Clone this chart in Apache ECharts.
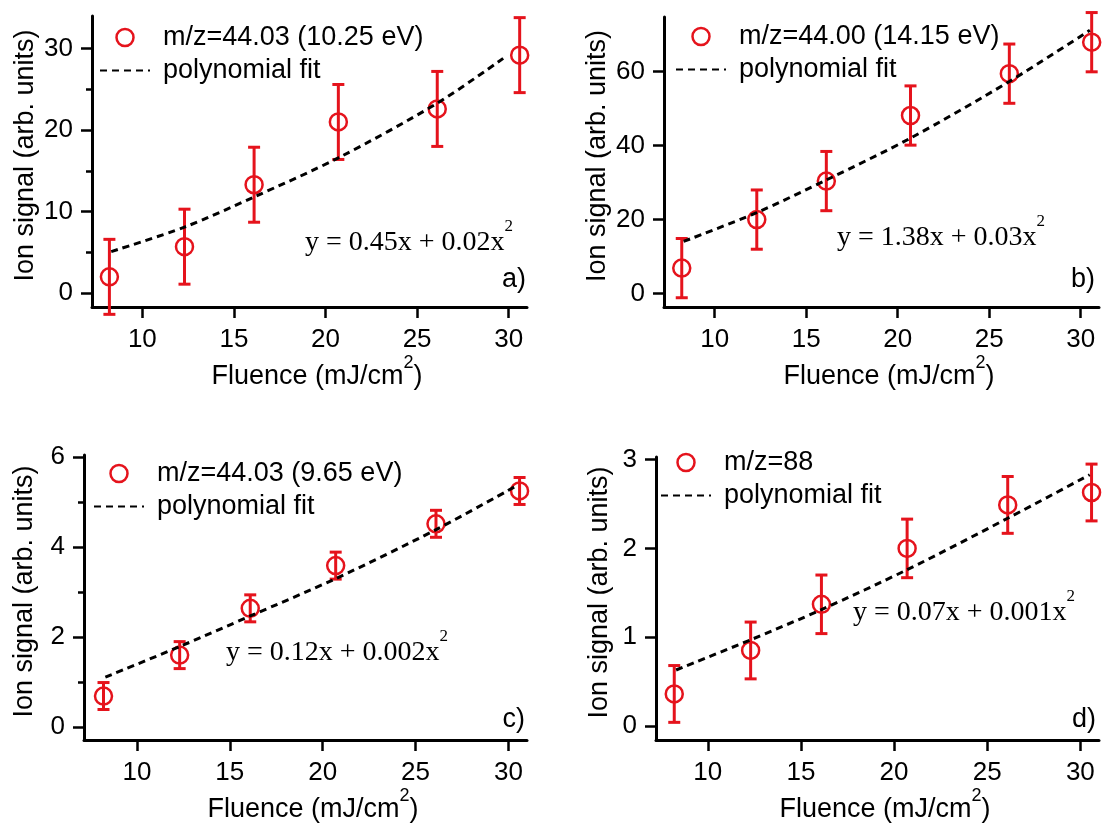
<!DOCTYPE html>
<html>
<head>
<meta charset="utf-8">
<script src="https://cdn.jsdelivr.net/npm/echarts@6/dist/echarts.min.js"></script>
<style>
  html, body { margin: 0; padding: 0; background: #fff; }
  #main { width: 1102px; height: 834px; }
</style>
</head>
<body>
<div id="main"></div>
<script>
// fluence (mJ/cm2), same for every panel
const fluence = [8.2, 12.3, 16.1, 20.7, 26.1, 30.6]
const xTicks = [10, 15, 20, 25, 30]

// a) m/z=44.03 (10.25 eV)
const sigA = [2.0, 5.7, 13.3, 21.0, 22.6, 29.2]
const errA = [4.6, 4.6, 4.6, 4.6, 4.6, 4.6]
const fitXA = [8.3, 12.3, 16.1, 20.7, 26.1, 29.7]
const fitA = [5.1, 8.1, 11.8, 16.6, 23.3, 28.8]
const yTicksA = [0, 10, 20, 30]
const yMinorA = [5, 15, 25]

// b) m/z=44.00 (14.15 eV)
const sigB = [6.9, 20.0, 30.4, 48.1, 59.4, 67.9]
const errB = [8.0, 8.0, 8.0, 8.0, 8.0, 8.0]
const fitXB = [8.3, 12.3, 16.1, 20.7, 26.1, 30.5]
const fitB = [14.1, 21.9, 30.7, 42.0, 57.3, 71.1]
const yTicksB = [0, 20, 40, 60]

// c) m/z=44.03 (9.65 eV)
const sigC = [0.69, 1.60, 2.64, 3.59, 4.52, 5.25]
const errC = [0.3, 0.3, 0.3, 0.3, 0.3, 0.3]
const fitXC = [8.3, 12.3, 16.1, 20.7, 26.1, 30.5]
const fitC = [1.11, 1.79, 2.47, 3.30, 4.39, 5.38]
const yTicksC = [0, 2, 4, 6]
const yMinorC = [1, 3, 5]

// d) m/z=88
const sigD = [0.36, 0.85, 1.37, 2.00, 2.49, 2.63]
const errD = [0.32, 0.32, 0.33, 0.33, 0.32, 0.32]
const fitXD = [8.3, 12.3, 16.1, 20.7, 26.1, 30.5]
const fitD = [0.63, 0.97, 1.31, 1.76, 2.34, 2.83]
const yTicksD = [0, 1, 2, 3]

const namesScatter = ['m/z=44.03 (10.25 eV)', 'm/z=44.00 (14.15 eV)', 'm/z=44.03 (9.65 eV)', 'm/z=88']
const fitName = 'polynomial fit'
const equations = ['y = 0.45x + 0.02x', 'y = 1.38x + 0.03x', 'y = 0.12x + 0.002x', 'y = 0.07x + 0.001x']

const RED = '#e5131c'
const SANS = '"Liberation Sans", Arial, sans-serif'
const SERIF = '"Liberation Serif", "Times New Roman", serif'

var myChart = echarts.init(document.getElementById('main'))

function xAxisOf(gridIndex, min, gap) {
  return {
    type: 'value', gridIndex: gridIndex, min: min, max: 31,
    name: 'Fluence (mJ/cm{s|2})', nameLocation: 'middle', nameGap: gap,
    nameTextStyle: {
      color: '#000', fontSize: 27, fontFamily: SANS, lineHeight: 46, padding: [0, 0, 0, 15],
      rich: { s: { fontSize: 18, fontFamily: SANS, color: '#000', verticalAlign: 'top', lineHeight: 18 } },
    },
    axisLine: { onZero: false, lineStyle: { color: '#000', width: 3 } },
    axisTick: { customValues: xTicks, length: 11, lineStyle: { color: '#000', width: 2.5 } },
    axisLabel: { customValues: xTicks, margin: 20, color: '#000', fontSize: 26, fontFamily: SANS },
    splitLine: { show: false },
  }
}

function yAxisOf(gridIndex, min, max, ticks, gap) {
  return {
    type: 'value', gridIndex: gridIndex, position: 'left', min: min, max: max,
    name: 'Ion signal (arb. units)', nameLocation: 'middle', nameGap: gap,
    nameTextStyle: { color: '#000', fontSize: 27, fontFamily: SANS, lineHeight: 30, padding: [0, 0, 0, 12] },
    axisLine: { onZero: false, lineStyle: { color: '#000', width: 3 } },
    axisTick: { customValues: ticks, length: 11, lineStyle: { color: '#000', width: 2.5 } },
    axisLabel: { customValues: ticks, margin: 19, color: '#000', fontSize: 26, fontFamily: SANS },
    splitLine: { show: false },
  }
}

// 小刻度用的辅助轴
function minorAxisOf(gridIndex, min, max, ticks) {
  return {
    type: 'value', gridIndex: gridIndex, position: 'left', min: min, max: max,
    axisLine: { show: false, onZero: false },
    axisTick: { customValues: ticks, length: 6, lineStyle: { color: '#000', width: 2.5 } },
    axisLabel: { show: false },
    splitLine: { show: false },
  }
}

function errorSeries(idx, sig, err) {
  return {
    type: 'custom', xAxisIndex: idx, yAxisIndex: idx, silent: true, z: 2,
    data: fluence.map((x, i) => [x, sig[i] - err[i], sig[i] + err[i]]),
    encode: { x: 0, y: [1, 2] },
    renderItem: function (params, api) {
      var x = api.value(0)
      var top = api.coord([x, api.value(2)])
      var bot = api.coord([x, api.value(1)])
      var w = 6
      var st = { stroke: RED, lineWidth: 3 }
      return {
        type: 'group',
        children: [
          { type: 'line', shape: { x1: top[0], y1: top[1], x2: bot[0], y2: bot[1] }, style: st },
          { type: 'line', shape: { x1: top[0] - w, y1: top[1], x2: top[0] + w, y2: top[1] }, style: st },
          { type: 'line', shape: { x1: bot[0] - w, y1: bot[1], x2: bot[0] + w, y2: bot[1] }, style: st },
        ],
      }
    },
  }
}

function pointSeries(idx, sig) {
  return {
    type: 'scatter', name: namesScatter[idx], xAxisIndex: idx, yAxisIndex: idx, z: 3,
    symbol: 'circle', symbolSize: 17,
    itemStyle: { color: 'transparent', borderColor: RED, borderWidth: 2.5, opacity: 1 },
    data: fluence.map((x, i) => [x, sig[i]]),
  }
}

function fitSeries(idx, fx, fy) {
  return {
    type: 'line', name: fitName, xAxisIndex: idx, yAxisIndex: idx, z: 4,
    symbol: 'none', smooth: 0.3, silent: true,
    itemStyle: { color: '#000' },
    lineStyle: { color: '#000', width: 3, type: [7, 5] },
    data: fx.map((x, i) => [x, fy[i]]),
  }
}

function legendOf(idx, left, top) {
  return {
    orient: 'vertical', left: left, top: top,
    data: [
      namesScatter[idx],
      { name: fitName, itemStyle: { color: 'transparent', borderWidth: 0, opacity: 0 } },
    ],
    itemWidth: 50, itemHeight: 17, itemGap: 6,
    selectedMode: false,
    itemStyle: { borderWidth: 2.5 },
    textStyle: { color: '#000', fontSize: 27, fontFamily: SANS, lineHeight: 27, padding: [0, 0, 0, 8] },
  }
}

// 公式，x² 用 rich 上标
function eq(idx, x, y) {
  return {
    type: 'text', x: x, y: y,
    style: {
      text: equations[idx] + '{s|2}', fill: '#000', fontSize: 28, fontFamily: SERIF, lineHeight: 50,
      align: 'left', verticalAlign: 'middle',
      rich: { s: { fontSize: 17, fontFamily: SERIF, fill: '#000', lineHeight: 17, verticalAlign: 'top' } },
    },
  }
}

function tag(x, y, text) {
  return { type: 'text', x: x, y: y, style: { text: text, fill: '#000', font: '27px ' + SANS, align: 'right', verticalAlign: 'middle' } }
}

var option = {
  animation: false,
  backgroundColor: '#fff',
  grid: [
    { left: 92, top: 16, width: 435, height: 291 },
    { left: 664, top: 17, width: 435, height: 290 },
    { left: 84, top: 455, width: 443, height: 290 },
    { left: 656, top: 457, width: 443, height: 291 },
  ],
  xAxis: [xAxisOf(0, 7.25, 36), xAxisOf(1, 7.23, 37), xAxisOf(2, 7.15, 35), xAxisOf(3, 7.22, 41)],
  yAxis: [
    yAxisOf(0, -1.7, 34, yTicksA, 51),
    yAxisOf(1, -3.6, 74.7, yTicksB, 51),
    yAxisOf(2, -0.29, 6.05, yTicksC, 44),
    yAxisOf(3, -0.16, 3.03, yTicksD, 41),
    minorAxisOf(0, -1.7, 34, yMinorA),
    minorAxisOf(2, -0.29, 6.05, yMinorC),
  ],
  legend: [
    legendOf(0, 94, 19),
    legendOf(1, 670, 18),
    legendOf(2, 88, 455),
    legendOf(3, 655, 444),
  ],
  series: [
    errorSeries(0, sigA, errA), pointSeries(0, sigA), fitSeries(0, fitXA, fitA),
    errorSeries(1, sigB, errB), pointSeries(1, sigB), fitSeries(1, fitXB, fitB),
    errorSeries(2, sigC, errC), pointSeries(2, sigC), fitSeries(2, fitXC, fitC),
    errorSeries(3, sigD, errD), pointSeries(3, sigD), fitSeries(3, fitXD, fitD),
  ],
  graphic: [
    eq(0, 305, 243), eq(1, 837, 238), eq(2, 226, 653), eq(3, 853, 613),
    tag(526, 280, 'a)'), tag(1095, 280, 'b)'), tag(525, 720, 'c)'), tag(1096, 720, 'd)'),
  ],
}
myChart.setOption(option)
</script>
</body>
</html>
